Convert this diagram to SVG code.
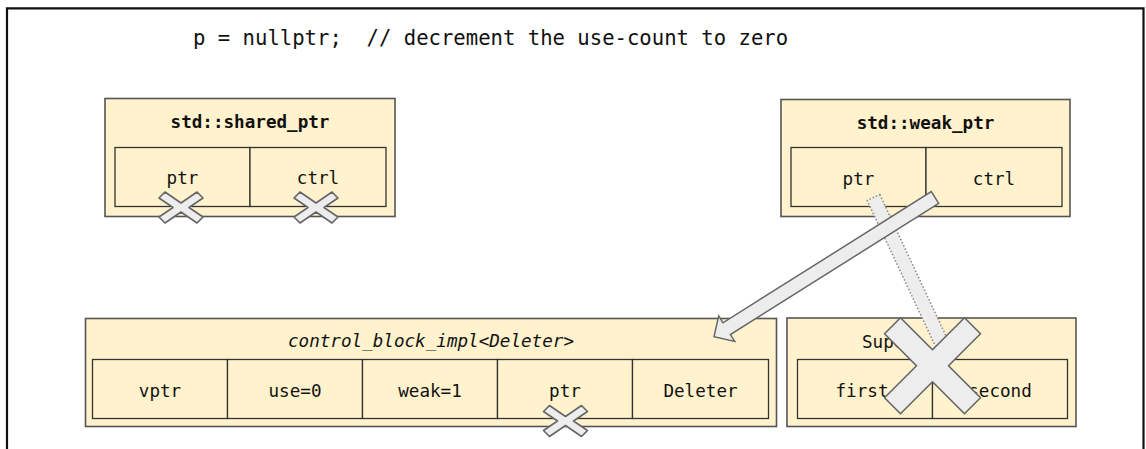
<svg xmlns="http://www.w3.org/2000/svg" width="1146" height="449" viewBox="0 0 1146 449">
<style>
.t{font-family:"DejaVu Sans Mono","Liberation Mono",monospace;font-size:17.6px;fill:#111;text-anchor:middle}
.h{font-weight:bold}
.i{font-style:italic}
.title{font-size:20.6px;text-anchor:start;white-space:pre}
.outer{fill:#fff2cc;stroke:#555;stroke-width:1.6}
.cell{fill:#fff2cc;stroke:#333;stroke-width:1.3}
.x{fill:#ededed;stroke:#666;stroke-width:1.6;stroke-linejoin:round}
.arrow{fill:#ededed;stroke:#666;stroke-width:1.5;stroke-linejoin:miter}
.dotted{fill:#ededed;stroke:#888;stroke-width:1.5;stroke-dasharray:1.5 2}
</style>
<defs>
<polygon id="smallX" class="x" points="-22,-9.5 -16,-15.5 0,-4.5 16,-15.5 22,-9.5 8,0 22,9.5 16,15.5 0,4.5 -16,15.5 -22,9.5 -8,0"/>
</defs>
<rect width="1146" height="449" fill="#fff"/>
<path d="M7,449 V8.3 H1143.5 V449" fill="none" stroke="#111" stroke-width="2.2"/>
<text class="t title" x="193" y="45" xml:space="preserve">p = nullptr;  // decrement the use-count to zero</text>

<g id="shared_ptr">
<rect class="outer" x="105" y="98.5" width="290" height="118"/>
<text class="t h" x="250" y="128">std::shared_ptr</text>
<rect class="cell" x="115" y="147.5" width="135" height="59"/>
<rect class="cell" x="250" y="147.5" width="136" height="59"/>
<text class="t" x="182.5" y="184">ptr</text>
<text class="t" x="318" y="184">ctrl</text>
</g>

<g id="weak_ptr">
<rect class="outer" x="781" y="99.5" width="289" height="117"/>
<text class="t h" x="925.5" y="129">std::weak_ptr</text>
<rect class="cell" x="791" y="147.5" width="135" height="59"/>
<rect class="cell" x="926" y="147.5" width="136" height="59"/>
<text class="t" x="858.5" y="185">ptr</text>
<text class="t" x="994" y="185">ctrl</text>
</g>

<g id="control_block">
<rect class="outer" x="85.5" y="318.5" width="691" height="108"/>
<text class="t i" x="431" y="347">control_block_impl&lt;Deleter&gt;</text>
<rect class="cell" x="92.5" y="359.5" width="135" height="59"/>
<rect class="cell" x="227.5" y="359.5" width="135" height="59"/>
<rect class="cell" x="362.5" y="359.5" width="135" height="59"/>
<rect class="cell" x="497.5" y="359.5" width="135" height="59"/>
<rect class="cell" x="632.5" y="359.5" width="136" height="59"/>
<text class="t" x="160" y="397">vptr</text>
<text class="t" x="295" y="397">use=0</text>
<text class="t" x="430" y="397">weak=1</text>
<text class="t" x="565" y="397">ptr</text>
<text class="t" x="700.5" y="397">Deleter</text>
</g>

<g id="super">
<rect class="outer" x="787" y="318" width="289" height="108.5"/>
<text class="t" x="862" y="348" style="text-anchor:start">Super</text>
<rect class="cell" x="797.5" y="359.5" width="135" height="59"/>
<rect class="cell" x="932.5" y="359.5" width="135" height="59"/>
<text class="t" x="862" y="397">first</text>
<text class="t" x="1000" y="397">second</text>
</g>

<g id="connectors">
<polygon class="dotted" points="879.8,194.5 952.7,350.3 940.1,356.3 867.2,200.5"/>
<polygon class="arrow" points="938.7,203.4 730.4,334.6 734.7,341.4 714,336.7 718.7,316 723,322.8 931.3,191.6"/>
</g>

<g id="crosses">
<use href="#smallX" x="181" y="207.5"/>
<use href="#smallX" x="316" y="207.5"/>
<use href="#smallX" x="565.5" y="421"/>
<polygon class="x" transform="translate(932.5,365.8)" points="-48,-32 -32,-48 0,-16 32,-48 48,-32 16,0 48,32 32,48 0,16 -32,48 -48,32 -16,0"/>
</g>
</svg>
